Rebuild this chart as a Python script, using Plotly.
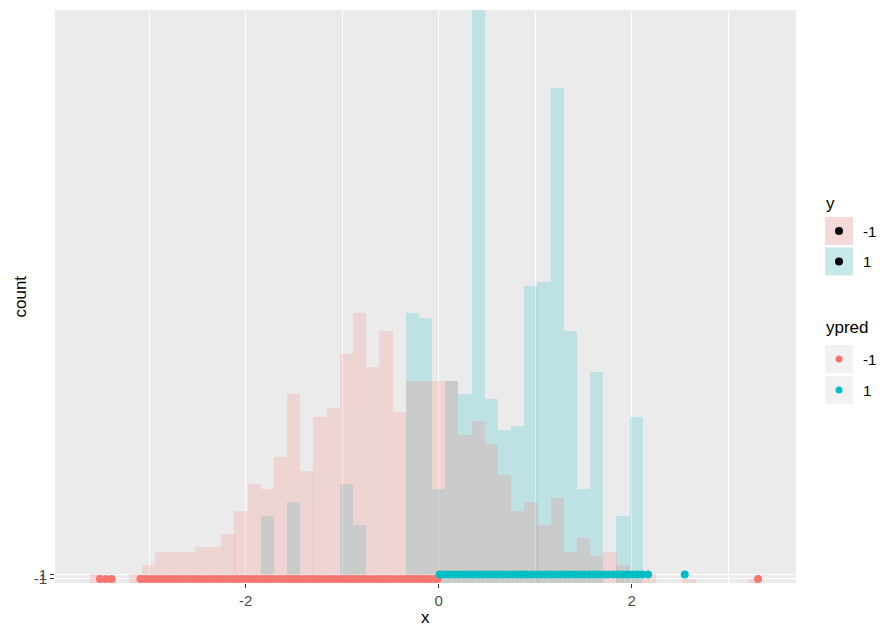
import plotly.graph_objects as go

# ---------------- data ----------------
BIN_WIDTH = 0.1365
bin_centers = [-3.549, -3.412, -3.276, -3.140, -3.003, -2.867, -2.730, -2.594, -2.457, -2.321,
               -2.184, -2.048, -1.911, -1.775, -1.638, -1.502, -1.365, -1.229, -1.092, -0.956,
               -0.819, -0.683, -0.546, -0.410, -0.273, -0.137, 0.000, 0.137, 0.273, 0.410,
               0.546, 0.683, 0.819, 0.956, 1.092, 1.229, 1.365, 1.502, 1.638, 1.775,
               1.911, 2.048, 2.184, 2.321, 2.457, 2.594, 2.730, 2.867, 3.003, 3.140, 3.276]

# histogram counts, true label y = -1
count_neg = [2, 1, 0, 2, 4, 7, 7, 7, 8, 8,
             11, 16, 22, 21, 28, 42, 25, 37, 39, 51,
             60, 48, 56, 38, 45, 45, 45, 45, 33, 36,
             31, 24, 16, 18, 13, 19, 7, 10, 6, 7,
             4, 1, 2, 0, 0, 1, 0, 0, 0, 0, 1]
# histogram counts, true label y = 1
count_pos = [0, 0, 0, 0, 0, 0, 0, 0, 0, 0,
             0, 0, 0, 15, 0, 18, 0, 0, 0, 22,
             13, 0, 0, 0, 60, 59, 21, 45, 42, 130,
             41, 34, 35, 66, 67, 110, 56, 21, 47, 0,
             15, 37, 0, 0, 0, 0, 0, 0, 0, 0, 0]

# predicted labels (points)
x_pred_neg = [-3.51, -3.45, -3.39, -3.09, -3.04, -2.99, -2.94, -2.89, -2.84, -2.79,
              -2.74, -2.69, -2.64, -2.59, -2.54, -2.49, -2.44, -2.39, -2.34, -2.29,
              -2.24, -2.19, -2.14, -2.09, -2.04, -1.99, -1.94, -1.89, -1.84, -1.79,
              -1.74, -1.69, -1.64, -1.59, -1.54, -1.49, -1.44, -1.39, -1.34, -1.29,
              -1.24, -1.19, -1.14, -1.09, -1.04, -0.99, -0.94, -0.89, -0.84, -0.79,
              -0.74, -0.69, -0.64, -0.59, -0.54, -0.49, -0.44, -0.39, -0.34, -0.29,
              -0.24, -0.19, -0.14, -0.09, -0.04, -0.01, 3.31]
x_pred_pos = [0.01, 0.06, 0.11, 0.16, 0.21, 0.26, 0.31, 0.36, 0.41, 0.46,
              0.51, 0.56, 0.61, 0.66, 0.71, 0.76, 0.81, 0.86, 0.91, 0.96,
              1.01, 1.06, 1.11, 1.16, 1.21, 1.26, 1.31, 1.36, 1.41, 1.46,
              1.51, 1.56, 1.61, 1.66, 1.71, 1.76, 1.81, 1.86, 1.91, 1.96,
              2.01, 2.06, 2.11, 2.17, 2.55]
ypred_levels = ["-1", "1"]      # discrete y positions 1 and 2
legend_levels = ["-1", "1"]

RED = "#F8766D"
TEAL = "#00BFC4"

fig = go.Figure()
fig.add_trace(go.Bar(x=bin_centers, y=count_pos, width=BIN_WIDTH,
                     marker=dict(color="rgba(0,191,196,0.19)", line=dict(width=0))))
fig.add_trace(go.Bar(x=bin_centers, y=count_neg, width=BIN_WIDTH,
                     marker=dict(color="rgba(248,118,109,0.2)", line=dict(width=0))))
fig.add_trace(go.Scatter(x=x_pred_neg, y=[1] * len(x_pred_neg), mode="markers",
                         marker=dict(color=RED, size=8, line=dict(width=0))))
fig.add_trace(go.Scatter(x=x_pred_pos, y=[2] * len(x_pred_pos), mode="markers",
                         marker=dict(color=TEAL, size=8, line=dict(width=0))))

# ---------------- layout ----------------
W, H = 881, 628
L, R, T, B = 55, 796, 10, 583

def px(xp):
    return (xp - L) / (R - L)

def py(yp):
    return (B - yp) / (B - T)

FONT = "Liberation Sans, Arial, sans-serif"
fig.update_layout(
    width=W, height=H,
    margin=dict(l=L, r=W - R, t=T, b=H - B),
    plot_bgcolor="#EBEBEB", paper_bgcolor="white",
    barmode="overlay", bargap=0, showlegend=False,
    font=dict(family=FONT),
)
fig.update_xaxes(
    range=[-3.976, 3.703], tickvals=[-2, 0, 2], ticktext=["-2", "0", "2"],
    showgrid=True, gridcolor="white", gridwidth=1.2, zeroline=False,
    minor=dict(tickvals=[-3, -1, 1, 3], showgrid=True, gridcolor="white", gridwidth=0.6, ticks=""),
    ticks="outside", ticklen=4, tickwidth=1.1, tickcolor="#333333",
    tickfont=dict(size=15, color="#4D4D4D", family=FONT), showline=False,
)
fig.update_yaxes(
    range=[0.11, 127.4], tickvals=[1, 2], ticktext=ypred_levels,
    showgrid=True, gridcolor="white", gridwidth=1.2, zeroline=False,
    ticks="outside", ticklen=4, tickwidth=1.1, tickcolor="#333333",
    tickfont=dict(size=15, color="#4D4D4D", family=FONT), showline=False,
)

shapes = []
annotations = []
# axis titles
annotations.append(dict(text="x", x=0.5, y=py(617), xref="paper", yref="paper",
                        showarrow=False, font=dict(size=17, color="black", family=FONT),
                        xanchor="center", yanchor="middle"))
annotations.append(dict(text="count", x=px(20), y=0.5, xref="paper", yref="paper",
                        showarrow=False, textangle=-90,
                        font=dict(size=17, color="black", family=FONT),
                        xanchor="center", yanchor="middle"))

# legend: y (fill)
def key(y0, y1, fill, dot_color, r):
    shapes.append(dict(type="rect", xref="paper", yref="paper",
                       x0=px(825), x1=px(853), y0=py(y1), y1=py(y0),
                       fillcolor=fill, line=dict(width=0), layer="above"))
    cy = (y0 + y1) / 2
    shapes.append(dict(type="circle", xref="paper", yref="paper",
                       x0=px(839 - r), x1=px(839 + r), y0=py(cy + r), y1=py(cy - r),
                       fillcolor=dot_color, line=dict(width=0), layer="above"))

annotations.append(dict(text="y", x=px(824), y=py(203), xref="paper", yref="paper",
                        showarrow=False, xanchor="left", yanchor="middle",
                        font=dict(size=17, color="black", family=FONT)))
key(217, 245, "rgb(243,217,215)", "black", 4)
key(247.5, 275.5, "rgb(198,232,233)", "black", 4)
annotations.append(dict(text="ypred", x=px(824), y=py(327), xref="paper", yref="paper",
                        showarrow=False, xanchor="left", yanchor="middle",
                        font=dict(size=17, color="black", family=FONT)))
key(345, 373, "#F2F2F2", RED, 3.5)
key(376, 404, "#F2F2F2", TEAL, 3.5)
for lab, cy in zip(legend_levels, [231, 261.5]):
    annotations.append(dict(text=lab, x=px(861), y=py(cy), xref="paper", yref="paper",
                            showarrow=False, xanchor="left", yanchor="middle",
                            font=dict(size=15, color="black", family=FONT)))
for lab, cy in zip(legend_levels, [359, 390]):
    annotations.append(dict(text=lab, x=px(861), y=py(cy), xref="paper", yref="paper",
                            showarrow=False, xanchor="left", yanchor="middle",
                            font=dict(size=15, color="black", family=FONT)))

fig.update_layout(shapes=shapes, annotations=annotations)
fig.write_html("out.html")
